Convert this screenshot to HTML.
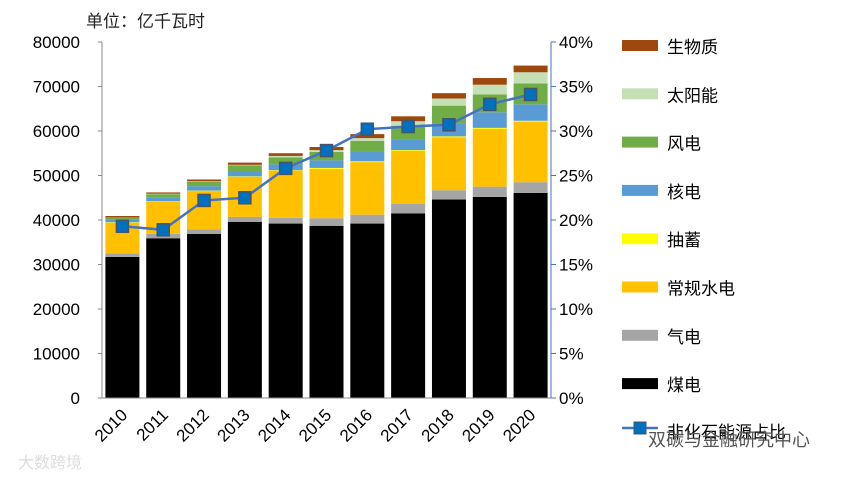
<!DOCTYPE html>
<html><head><meta charset="utf-8"><style>
body{margin:0;background:#fff;width:864px;height:477px;overflow:hidden}
svg text{font-family:"Liberation Sans","Noto Sans CJK SC",sans-serif}
</style></head><body>
<svg id="chart" width="864" height="477" xmlns="http://www.w3.org/2000/svg">
<text x="86" y="27" font-size="17" fill="#222">单位：亿千瓦时</text>
<g id="plot"></g>
<g id="legend"></g>
<text x="18" y="468" font-size="16" fill="#ddd">大数跨境</text>
<text x="648" y="446" font-size="18" fill="#555">双碳与金融研究中心</text>
</svg>
<script>
const years=["2010","2011","2012","2013","2014","2015","2016","2017","2018","2019","2020"];
const coal=[31.7,35.9,36.9,39.6,39.2,38.7,39.2,41.5,44.6,45.2,46.1];
const gas=[0.8,1.0,1.0,1.1,1.3,1.7,2.0,2.1,2.1,2.3,2.4];
const hydro=[6.9,7.2,8.6,9.0,10.6,11.1,11.8,11.9,11.9,13.0,13.6];
const pumped=[0.1,0.1,0.1,0.1,0.1,0.2,0.2,0.2,0.2,0.2,0.2];
const nuclear=[0.7,0.9,1.0,1.1,1.3,1.7,2.2,2.4,2.9,3.5,3.7];
const wind=[0.4,0.7,1.0,1.4,1.6,1.9,2.4,3.1,4.0,4.0,4.7];
const solar=[0.0,0.1,0.1,0.1,0.3,0.4,0.6,1.0,1.6,2.2,2.5];
const bio=[0.3,0.3,0.4,0.5,0.6,0.7,0.9,1.1,1.2,1.5,1.5];
const share=[19.3,18.9,22.2,22.5,25.8,27.8,30.2,30.5,30.7,33.0,34.1];
const leftTicks=[0,10000,20000,30000,40000,50000,60000,70000,80000];
const rightTicks=[0,5,10,15,20,25,30,35,40];
const seriesNames=["煤电","气电","常规水电","抽蓄","核电","风电","太阳能","生物质"];
const seriesKeys=["coal","gas","hydro","pumped","nuclear","wind","solar","bio"];
const colors=["#000000","#a5a5a5","#ffc000","#ffff00","#5b9bd5","#70ad47","#c5e0b4","#9e480e"];
const data={coal,gas,hydro,pumped,nuclear,wind,solar,bio};
const NS="http://www.w3.org/2000/svg";
const X0=102,X1=551,Y0=398,Y1=42;
const slot=(X1-X0)/years.length,bw=34;
const yL=v=>Y0-(v/80)*(Y0-Y1); // v in thousands
const yR=p=>Y0-(p/40)*(Y0-Y1);
const xC=i=>X0+slot*(i+0.5);
function mk(t,a,p){const e=document.createElementNS(NS,t);for(const k in a)e.setAttribute(k,a[k]);p.appendChild(e);return e;}
const plot=document.getElementById('plot');
// axes
let ax=mk('line',{x1:X0,y1:Y1,x2:X0,y2:Y0,stroke:'#888'},plot);


let ax2=mk('line',{x1:X1,y1:Y1,x2:X1,y2:Y0,stroke:'#4472c4'},plot);


leftTicks.forEach(t=>{const y=yL(t/1000);
 mk('line',{x1:X0-4,y1:y,x2:X0,y2:y,stroke:'#888'},plot);
 const tx=mk('text',{x:X0-22,y:y+6,'font-size':17,'text-anchor':'end',fill:'#000'},plot);tx.textContent=t;
 
 });
rightTicks.forEach(t=>{const y=yR(t);
 mk('line',{x1:X1,y1:y,x2:X1+5,y2:y,stroke:'#4472c4'},plot);
 const tx=mk('text',{x:X1+8,y:y+6,'font-size':17,fill:'#000'},plot);tx.textContent=t+'%';
 
 });
years.forEach((yr,i)=>{let base=0;
 seriesKeys.forEach((k,s)=>{const v=data[k][i];const yt=yL(base+v),yb=yL(base);
  const r=mk('rect',{x:xC(i)-bw/2,y:yt,width:bw,height:Math.max(0,yb-yt),fill:colors[s]},plot);
  
  
  base+=v;});
 const tx=mk('text',{x:xC(i)+6,y:Y0+18,'font-size':17,'text-anchor':'end',transform:`rotate(-45 ${xC(i)+6} ${Y0+18})`},plot);tx.textContent=yr;
 
 });
mk('line',{x1:X0,y1:Y0,x2:X1,y2:Y0,stroke:'#888'},plot);
const pts=share.map((p,i)=>xC(i)+','+yR(p)).join(' ');
const pl=mk('polyline',{points:pts,fill:'none',stroke:'#4472c4','stroke-width':2.5},plot);


share.forEach((p,i)=>{const m=mk('rect',{x:xC(i)-6,y:yR(p)-6,width:12,height:12,fill:'#0070c0',stroke:'#44546a','stroke-width':1.5},plot);
 
 });
const lg=document.getElementById('legend');
for(let s=7;s>=0;s--){const y=46+(7-s)*48.3;
 const r=mk('rect',{x:622,y:y-6,width:36,height:11,fill:colors[s]},lg);
 
 
 const t=mk('text',{x:667,y:y+7,'font-size':17,fill:'#000'},lg);t.textContent=seriesNames[s];
 
 }
mk('line',{x1:622,y1:428,x2:658,y2:428,stroke:'#4472c4','stroke-width':2.5},lg);
mk('rect',{x:634,y:422,width:12,height:12,fill:'#0070c0',stroke:'#44546a'},lg);
const lt=mk('text',{x:667,y:438,'font-size':17,fill:'#000'},lg);lt.textContent='非化石能源占比';


</script>
</body></html>
